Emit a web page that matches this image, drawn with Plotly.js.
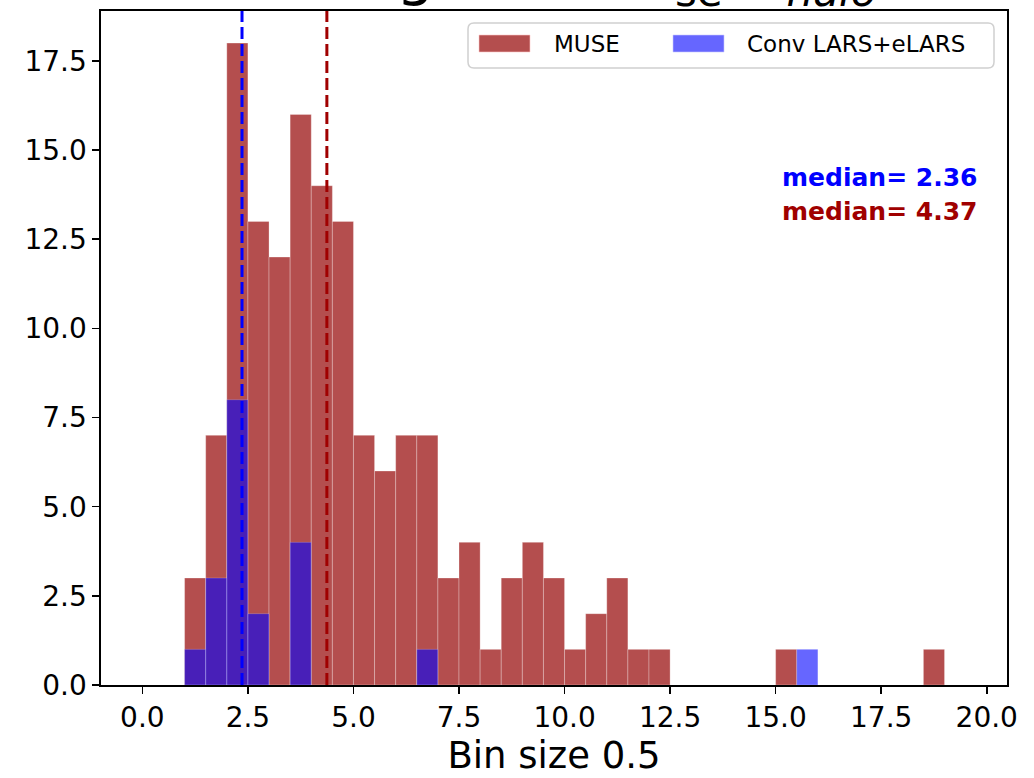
<!DOCTYPE html>
<html>
<head>
<meta charset="utf-8">
<script src="https://cdn.plot.ly/plotly-3.0.1.min.js"></script>
<style>
  html, body { margin: 0; padding: 0; background: #ffffff; }
  #chart { width: 1034px; height: 778px; }
</style>
</head>
<body>
<div id="chart"></div>
<script>
// Histogram bins: left edge of the first bin and the common bin width
const binStart = 1.0;
const binWidth = 0.5;

// Counts per 0.5-wide bin, starting at binStart
const museCounts = [3, 7, 18, 13, 12, 16, 14, 13, 7, 6, 7, 7, 3, 4, 1, 3, 4, 3,
                    1, 2, 3, 1, 1, 0, 0, 0, 0, 0, 1, 0, 0, 0, 0, 0, 0, 1];
const convCounts = [1, 3, 8, 2, 0, 4, 0, 0, 0, 0, 0, 1, 0, 0, 0, 0, 0, 0,
                    0, 0, 0, 0, 0, 0, 0, 0, 0, 0, 0, 1];

// Medians of the two samples
const medianConv = 2.36;
const medianMuse = 4.37;

// Tick positions and labels
const xTickVals = [0, 2.5, 5, 7.5, 10, 12.5, 15, 17.5, 20];
const xTickText = ['0.0', '2.5', '5.0', '7.5', '10.0', '12.5', '15.0', '17.5', '20.0'];
const yTickVals = [0, 2.5, 5, 7.5, 10, 12.5, 15, 17.5];
const yTickText = ['0.0', '2.5', '5.0', '7.5', '10.0', '12.5', '15.0', '17.5'];

const museColor = 'rgba(165,42,42,0.83)';
const convColor = 'rgba(0,0,255,0.6)';
const museLine = '#a00000';
const convLine = '#0000ff';
const FONT = 'DejaVu Sans, Verdana, sans-serif';

// Bin centres for the non-empty bins
function barsFrom(counts) {
  const x = [], y = [];
  counts.forEach((c, i) => {
    if (c > 0) {
      x.push(binStart + binWidth * (i + 0.5));
      y.push(c);
    }
  });
  return { x, y };
}

const museBars = barsFrom(museCounts);
const convBars = barsFrom(convCounts);

const traces = [
  {
    type: 'bar', name: 'MUSE',
    x: museBars.x, y: museBars.y, width: binWidth,
    marker: { color: museColor, line: { color: 'rgba(255,255,255,0.28)', width: 1 } },
    showlegend: false
  },
  {
    type: 'bar', name: 'Conv LARS+eLARS',
    x: convBars.x, y: convBars.y, width: binWidth,
    marker: { color: convColor, line: { color: 'rgba(255,255,255,0.2)', width: 1 } },
    showlegend: false
  }
];

// Plot area in pixels, used to place the legend box in paper units
const L = 101, R = 1007, T = 11, B = 685;
const px = v => (v - L) / (R - L);
const py = v => (B - v) / (B - T);

function roundedBox(x0, y0, x1, y1, r) {
  const rx = r / (R - L), ry = r / (B - T);
  const a = px(x0), b = px(x1), top = py(y0), bot = py(y1);
  return `M${a + rx},${top} L${b - rx},${top} Q${b},${top} ${b},${top - ry} ` +
         `L${b},${bot + ry} Q${b},${bot} ${b - rx},${bot} L${a + rx},${bot} ` +
         `Q${a},${bot} ${a},${bot + ry} L${a},${top - ry} Q${a},${top} ${a + rx},${top} Z`;
}

const shapes = [
  // median lines
  { type: 'line', xref: 'x', yref: 'paper', x0: medianConv, x1: medianConv, y0: 0, y1: 1,
    line: { color: convLine, width: 3, dash: '12px,5px' } },
  { type: 'line', xref: 'x', yref: 'paper', x0: medianMuse, x1: medianMuse, y0: 0, y1: 1,
    line: { color: museLine, width: 3, dash: '12px,5px' } },
  // legend frame
  { type: 'path', xref: 'paper', yref: 'paper', path: roundedBox(468, 23, 994, 68, 6),
    fillcolor: 'rgba(255,255,255,0.8)', line: { color: '#d0d0d0', width: 1.5 } },
  // legend patches
  { type: 'rect', xref: 'paper', yref: 'paper', x0: px(479), x1: px(530), y0: py(52), y1: py(35),
    fillcolor: museColor, line: { color: 'rgba(255,200,200,0.6)', width: 1 } },
  { type: 'rect', xref: 'paper', yref: 'paper', x0: px(673), x1: px(724), y0: py(52), y1: py(35),
    fillcolor: convColor, line: { color: 'rgba(200,200,255,0.6)', width: 1 } }
];

const annotations = [
  { xref: 'paper', yref: 'paper', x: px(552), y: py(44), xanchor: 'left', yanchor: 'middle',
    text: 'MUSE', showarrow: false, font: { family: FONT, size: 23, color: '#000' } },
  { xref: 'paper', yref: 'paper', x: px(745), y: py(44), xanchor: 'left', yanchor: 'middle',
    text: 'Conv LARS+eLARS', showarrow: false, font: { family: FONT, size: 23, color: '#000' } },
  { xref: 'paper', yref: 'paper', x: px(979), y: py(178), xanchor: 'right', yanchor: 'middle',
    text: '<b>median= ' + medianConv.toFixed(2) + '</b>', showarrow: false,
    font: { family: FONT, size: 25, color: convLine } },
  { xref: 'paper', yref: 'paper', x: px(979), y: py(211), xanchor: 'right', yanchor: 'middle',
    text: '<b>median= ' + medianMuse.toFixed(2) + '</b>', showarrow: false,
    font: { family: FONT, size: 25, color: museLine } },
  // figure title, mostly above the top edge of the page
  { xref: 'paper', yref: 'paper', x: px(559), y: py(18), xanchor: 'center', yanchor: 'bottom',
    text: 'Histogram of r<sub>se</sub>/ r<sub><i>halo</i></sub>', showarrow: false,
    font: { family: FONT, size: 60, color: '#000' } }
];

const axisCommon = {
  showgrid: false, zeroline: false,
  showline: true, linecolor: '#000', linewidth: 1.6, mirror: true,
  ticks: 'outside', ticklen: 7, tickwidth: 1.6, tickcolor: '#000',
  tickfont: { family: FONT, size: 28, color: '#000' },
  tickmode: 'array'
};

const layout = {
  width: 1034, height: 778,
  margin: { l: L, r: 1034 - R, t: T, b: 778 - B },
  paper_bgcolor: '#ffffff', plot_bgcolor: '#ffffff',
  barmode: 'overlay', bargap: 0,
  showlegend: false,
  xaxis: Object.assign({}, axisCommon, {
    range: [-0.98, 20.48], tickvals: xTickVals, ticktext: xTickText,
    title: { text: 'Bin size 0.5', font: { family: FONT, size: 37, color: '#000' }, standoff: 7 }
  }),
  yaxis: Object.assign({}, axisCommon, {
    range: [0, 18.9], tickvals: yTickVals, ticktext: yTickText
  }),
  shapes: shapes,
  annotations: annotations
};

Plotly.newPlot('chart', traces, layout, { displayModeBar: false, staticPlot: true });
</script>
</body>
</html>
